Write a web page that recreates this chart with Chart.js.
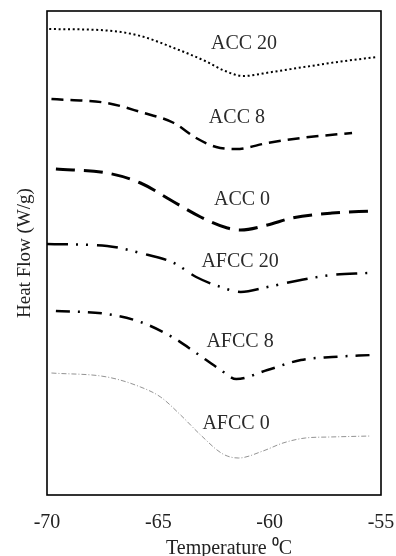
<!DOCTYPE html>
<html>
<head>
<meta charset="utf-8">
<script src="https://cdn.jsdelivr.net/npm/chart.js@4/dist/chart.umd.min.js"></script>
<style>
  html, body { margin: 0; padding: 0; background: #fff; }
  canvas { display: block; }
</style>
</head>
<body>
<canvas id="dsc" width="396" height="556"></canvas>
<script>
// DSC thermograms, heat flow curves offset vertically (arbitrary units)
const seriesNames = ['ACC 20', 'ACC 8', 'ACC 0', 'AFCC 20', 'AFCC 8', 'AFCC 0'];

const acc20Temp = [-69.9, -67.3, -65.8, -64.3, -62.8, -62.1, -61.2, -59.9, -58.3, -56.8, -55.2];
const acc20Flow = [46.6, 46.45, 45.9, 44.7, 43.3, 42.5, 41.9, 42.3, 42.85, 43.35, 43.8];

const acc8Temp = [-69.8, -67.3, -65.8, -64.3, -63.3, -62.4, -61.5, -60.1, -58.6, -56.3];
const acc8Flow = [39.6, 39.2, 38.3, 37.2, 35.7, 34.8, 34.6, 35.2, 35.7, 36.2];

const acc0Temp = [-69.6, -67.3, -65.8, -64.3, -63.1, -61.9, -61.3, -60.1, -59.0, -57.2, -55.4];
const acc0Flow = [32.6, 32.2, 31.2, 29.3, 27.8, 26.7, 26.5, 27.0, 27.7, 28.2, 28.4];

const afcc20Temp = [-70.0, -67.3, -65.8, -64.3, -63.3, -62.2, -61.3, -60.1, -58.6, -57.2, -55.6];
const afcc20Flow = [25.1, 24.9, 24.2, 23.2, 21.8, 20.8, 20.3, 20.8, 21.5, 22.0, 22.2];

const afcc8Temp = [-69.6, -67.3, -65.8, -64.3, -63.3, -62.2, -61.5, -60.1, -58.6, -57.2, -55.4];
const afcc8Flow = [18.4, 18.1, 17.3, 15.7, 14.2, 12.5, 11.6, 12.5, 13.5, 13.8, 14.0];

const afcc0Temp = [-69.8, -67.3, -65.8, -64.9, -64.0, -63.1, -62.1, -61.4, -60.3, -59.4, -58.4, -57.3, -55.45];
const afcc0Flow = [12.2, 11.8, 10.8, 9.8, 8.0, 6.0, 4.1, 3.7, 4.4, 5.2, 5.7, 5.8, 5.9];

// where each curve's name is written (temperature, heat flow)
const labelTemp = [-61.15, -61.47, -61.24, -61.33, -61.33, -61.51];
const labelFlow = [45.1, 37.7, 29.5, 23.3, 15.3, 7.1];

const xTicks = [-70, -65, -60, -55];

const temps = [acc20Temp, acc8Temp, acc0Temp, afcc20Temp, afcc8Temp, afcc0Temp];
const flows = [acc20Flow, acc8Flow, acc0Flow, afcc20Flow, afcc8Flow, afcc0Flow];

const lineStyles = [
  { color: '#000', width: 2,   dash: [2, 2.7] },
  { color: '#000', width: 2.5, dash: [12, 7] },
  { color: '#000', width: 3,   dash: [19, 9] },
  { color: '#000', width: 2.5, dash: [21, 8, 2, 8, 2, 9] },
  { color: '#000', width: 2.5, dash: [14, 8, 2, 8] },
  { color: '#777', width: 0.8, dash: [5, 2, 1, 2] }
];

const serif = "'Liberation Serif', 'Times New Roman', serif";

const datasets = seriesNames.map((name, i) => ({
  label: name,
  data: temps[i].map((t, k) => ({ x: t, y: flows[i][k] })),
  borderColor: lineStyles[i].color,
  borderWidth: lineStyles[i].width,
  borderDash: lineStyles[i].dash,
  borderCapStyle: 'butt',
  pointRadius: 0,
  fill: false,
  cubicInterpolationMode: 'monotone'
}));

// box around the plotting area
const frame = {
  id: 'frame',
  afterDraw(chart) {
    const { ctx, chartArea: a } = chart;
    ctx.save();
    ctx.strokeStyle = '#000';
    ctx.lineWidth = 1.6;
    ctx.strokeRect(a.left, a.top, a.right - a.left, a.bottom - a.top);
    ctx.restore();
  }
};

// curve names written next to each thermogram
const curveNames = {
  id: 'curveNames',
  afterDatasetsDraw(chart) {
    const { ctx, scales: { x, y } } = chart;
    ctx.save();
    ctx.font = '20px ' + serif;
    ctx.fillStyle = '#2a2a2a';
    ctx.textAlign = 'center';
    ctx.textBaseline = 'middle';
    seriesNames.forEach((name, i) => {
      ctx.fillText(name, x.getPixelForValue(labelTemp[i]), y.getPixelForValue(labelFlow[i]));
    });
    ctx.restore();
  }
};

new Chart(document.getElementById('dsc'), {
  type: 'line',
  data: { datasets },
  options: {
    responsive: false,
    animation: false,
    devicePixelRatio: 1,
    layout: { padding: { top: 11, right: 15, left: 0, bottom: 0 } },
    plugins: { legend: { display: false }, tooltip: { enabled: false } },
    scales: {
      x: {
        type: 'linear',
        min: -70,
        max: -55,
        afterBuildTicks(scale) { scale.ticks = xTicks.map(v => ({ value: v })); },
        afterFit(scale) {
          scale.height = 61;
          scale.paddingLeft = 0;
          scale.paddingRight = 0;
        },
        grid: { display: false, drawTicks: false },
        border: { display: false },
        ticks: {
          padding: 16,
          color: '#222',
          font: { family: serif, size: 20 },
          maxRotation: 0
        },
        title: {
          display: true,
          text: '      Temperature \u2070C',
          color: '#222',
          font: { family: serif, size: 20, lineHeight: 0.75 },
          padding: { top: 0, bottom: 0 }
        }
      },
      y: {
        min: 0,
        max: 48.4,
        afterFit(scale) { scale.width = 47; },
        grid: { display: false, drawTicks: false },
        border: { display: false },
        ticks: { display: false },
        title: {
          display: true,
          text: 'Heat Flow (W/g)',
          color: '#222',
          font: { family: serif, size: 19, lineHeight: 1 },
          padding: { top: 16, bottom: 0 }
        }
      }
    }
  },
  plugins: [frame, curveNames]
});
</script>
</body>
</html>
